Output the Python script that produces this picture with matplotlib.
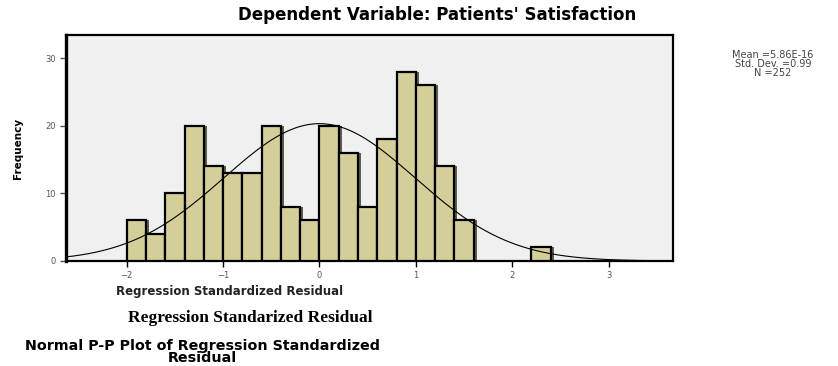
import numpy as np
import matplotlib
matplotlib.use('Agg')
from matplotlib import pyplot as plt

# Histogram of regression standardized residuals (bin width 0.2)
bin_starts = [-2.0, -1.8, -1.6, -1.4, -1.2, -1.0, -0.8, -0.6, -0.4, -0.2,
              0.0, 0.2, 0.4, 0.6, 0.8, 1.0, 1.2, 1.4, 2.2]
counts = [6, 4, 10, 20, 14, 13, 13, 20, 8, 6,
          20, 16, 8, 18, 28, 26, 14, 6, 2]
bin_width = 0.2

# Summary statistics shown in the chart
mean_val = 5.86e-16
std_dev = 0.99
n_obs = 252

x_ticks = [-2, -1, 0, 1, 2, 3]
y_ticks = [0, 10, 20, 30]

fig = plt.figure(figsize=(8.38, 3.66), dpi=100)
ax = fig.add_axes([0.0788, 0.287, 0.7244, 0.617])

ax.set_facecolor('#f0f0f0')

# shadow behind each bar
ax.bar(np.array(bin_starts) + 0.03, counts, width=bin_width, align='edge',
       color='#5f5e4c', edgecolor='none', zorder=2)
ax.bar(bin_starts, counts, width=bin_width, align='edge',
       color='#d4cf98', edgecolor='black', linewidth=1.6, zorder=3)

# fitted normal curve
xs = np.linspace(-2.65, 3.7, 400)
curve = n_obs * bin_width / (std_dev * np.sqrt(2 * np.pi)) * np.exp(-0.5 * ((xs - mean_val) / std_dev) ** 2)
ax.plot(xs, curve, color='black', linewidth=0.8, zorder=4)

ax.set_xlim(-2.63, 3.67)
ax.set_ylim(0, 33.4)
ax.set_xticks(x_ticks)
ax.set_yticks(y_ticks)
ax.tick_params(axis='both', labelsize=6, colors='#555555', length=4, width=1)
ax.tick_params(axis='x', colors='black', labelcolor='#555555')
for sp in ax.spines.values():
    sp.set_color('black')
    sp.set_linewidth(1.6)
ax.spines['left'].set_linewidth(2.4)

ax.set_ylabel('Frequency', fontsize=7.5, fontweight='bold', labelpad=16)

fig.text(437 / 838, 1 - 15 / 366, "Dependent Variable: Patients' Satisfaction",
         ha='center', va='center', fontsize=12, fontweight='bold', family='DejaVu Sans')
fig.text(773 / 838, 1 - 64 / 366,
         'Mean =%.2fE-16\nStd. Dev. =%.2f\nN =%d' % (mean_val * 1e16, std_dev, n_obs),
         ha='center', va='center', fontsize=7, color='#444444', linespacing=0.85)
fig.text(230 / 838, 1 - 291 / 366, 'Regression Standardized Residual',
         ha='center', va='center', fontsize=8.5, fontweight='bold', family='DejaVu Sans',
         color='#222222')
fig.text(250 / 838, 1 - 318 / 366, 'Regression Standarized Residual',
         ha='center', va='center', fontsize=12.5, fontweight='bold', family='Liberation Serif')
fig.text(202 / 838, 1 - 352 / 366, 'Normal P-P Plot of Regression Standardized\nResidual',
         ha='center', va='center', fontsize=10.3, fontweight='bold', family='DejaVu Sans',
         linespacing=0.8)

fig.savefig('out.png', dpi=100)
